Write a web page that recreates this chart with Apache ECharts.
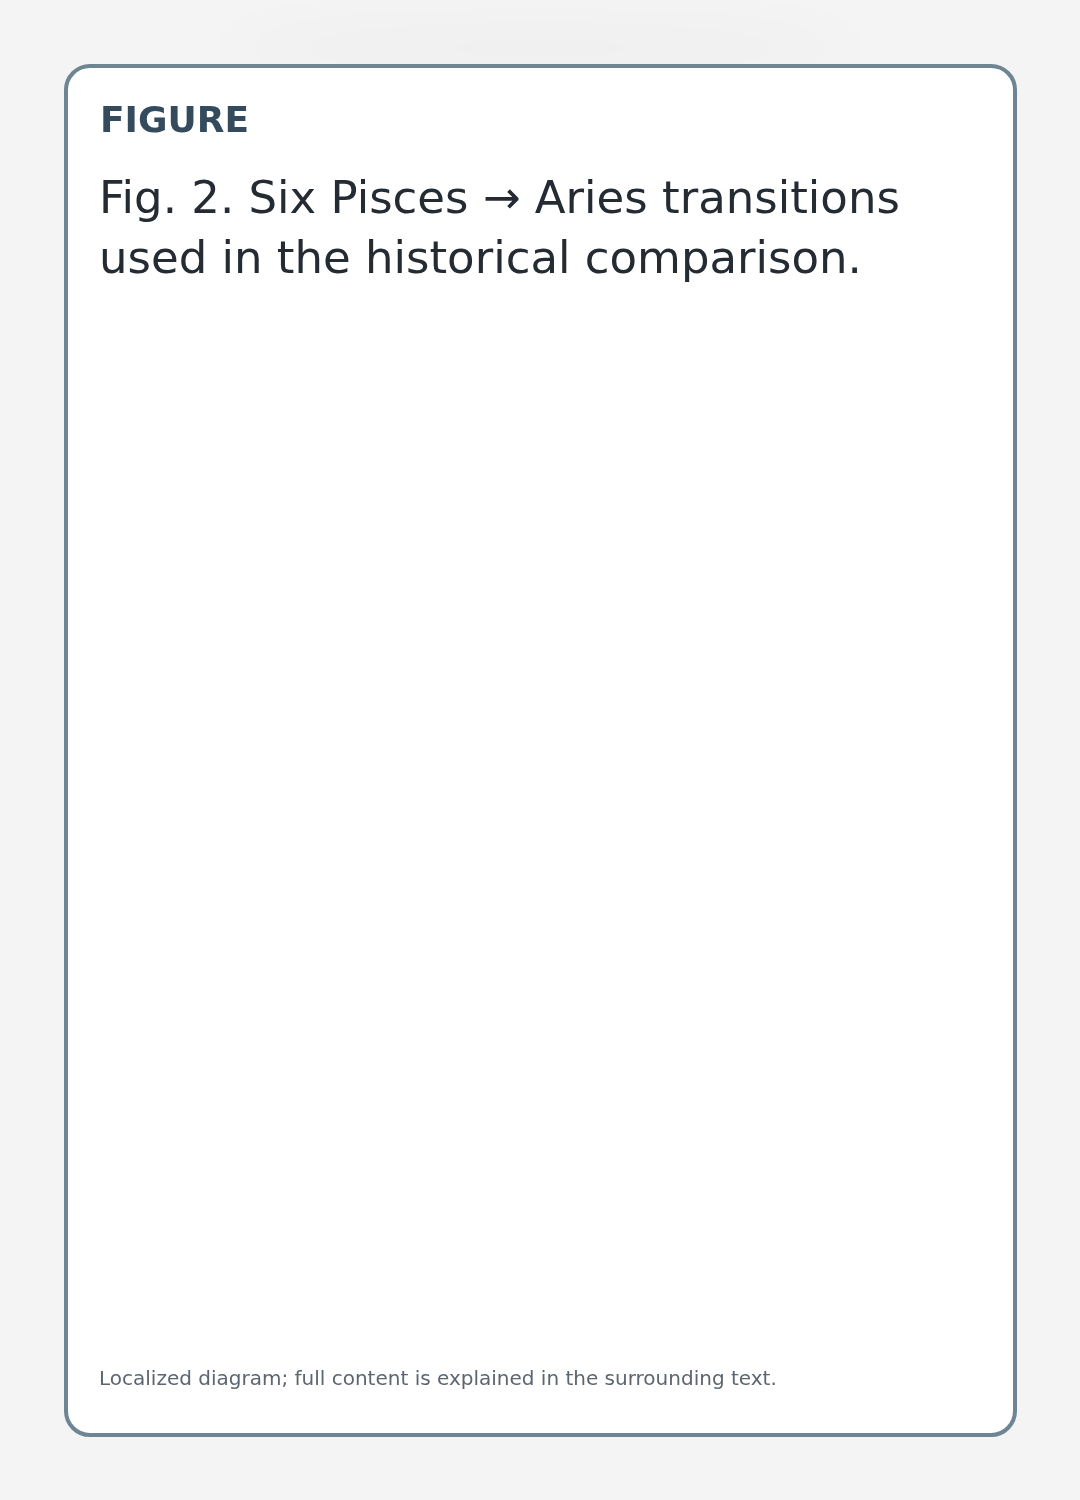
<!DOCTYPE html>
<html>
<head>
<meta charset="utf-8">
<script src="https://cdn.jsdelivr.net/npm/echarts@6/dist/echarts.min.js"></script>
<style>
  html, body { margin: 0; padding: 0; background: #f3f4f3; }
  #chart { width: 1080px; height: 1500px; }
</style>
</head>
<body>
<div id="chart"></div>
<script>
// Texts of the figure (the diagram itself is empty in the source)
const kicker = 'FIGURE';
const captionLines = ['Fig. 2. Six Pisces \u2192 Aries transitions', 'used in the historical comparison.'];
const footnote = 'Localized diagram; full content is explained in the surrounding text.';
const categories = [];
const seriesValues = [];

const FONT = 'DejaVu Sans';
const chart = echarts.init(document.getElementById('chart'), null, { renderer: 'canvas', width: 1080, height: 1500 });

chart.setOption({
  backgroundColor: '#f3f4f3',
  animation: false,
  graphic: [
    {
      // soft glow above the card: only the blurred shadow is visible
      type: 'ellipse', silent: true, z: 0,
      shape: { cx: 540, cy: -1000, rx: 330, ry: 18 },
      style: {
        fill: 'rgba(0,0,0,1)',
        shadowBlur: 60, shadowOffsetY: 1048,
        shadowColor: 'rgba(0,0,0,0.035)'
      }
    },
    {
      type: 'rect', z: 1, silent: true,
      shape: { x: 66, y: 66, width: 949, height: 1369, r: 24 },
      style: { fill: '#ffffff', stroke: '#6e8593', lineWidth: 4 }
    },
    {
      type: 'text', z: 2, silent: true,
      x: 100, y: 122.5,
      style: {
        text: kicker, fill: '#344b5d',
        font: 'bold 36px "' + FONT + '"',
        verticalAlign: 'middle', align: 'left'
      }
    },
    {
      type: 'text', z: 2, silent: true,
      x: 99, y: 171.5,
      style: {
        text: captionLines.join('\n'), fill: '#242b33',
        font: '45px "' + FONT + '"', lineHeight: 60,
        verticalAlign: 'top', align: 'left'
      }
    },
    {
      type: 'text', z: 2, silent: true,
      x: 99, y: 1380,
      style: {
        text: footnote, fill: '#5c6570',
        font: '20px "' + FONT + '"',
        verticalAlign: 'middle', align: 'left'
      }
    }
  ],
  grid: { left: 100, right: 100, top: 320, bottom: 180, show: false },
  xAxis: { type: 'category', data: categories, show: false },
  yAxis: { type: 'value', show: false },
  series: [{ type: 'bar', data: seriesValues }]
});
</script>
</body>
</html>
